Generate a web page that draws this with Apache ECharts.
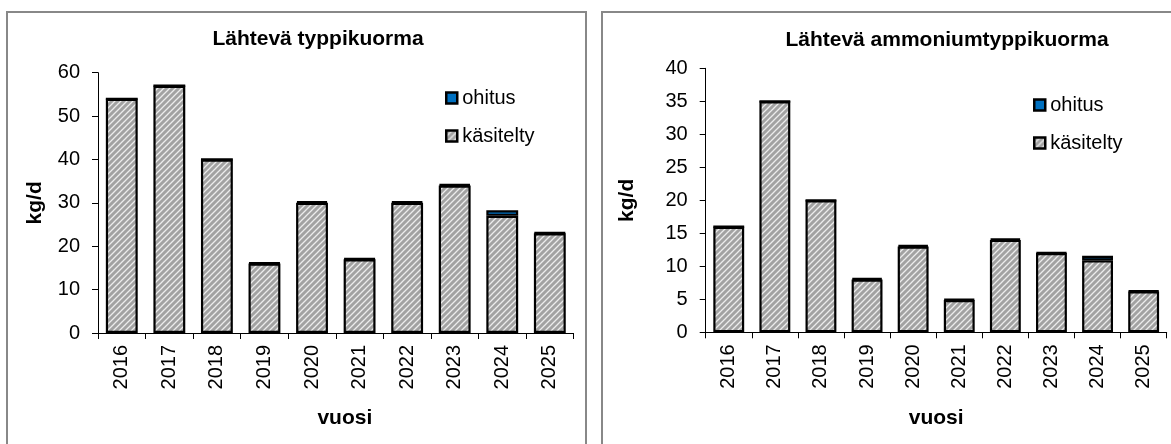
<!DOCTYPE html>
<html>
<head>
<meta charset="utf-8">
<script src="https://cdn.jsdelivr.net/npm/echarts@6/dist/echarts.min.js"></script>
<style>
  html, body { margin: 0; padding: 0; background: #fff; }
  #chart { width: 1171px; height: 444px; }
</style>
</head>
<body>
<div id="chart"></div>
<script>
  // vuodet
  var years = ['2016', '2017', '2018', '2019', '2020', '2021', '2022', '2023', '2024', '2025'];

  // Lähtevä typpikuorma, kg/d
  var typpiKasitelty = [54, 57, 40, 16, 30, 17, 30, 34, 27, 23];
  var typpiOhitus    = [0, 0, 0, 0.2, 0.4, 0.2, 0.3, 0.3, 1.3, 0.2];

  // Lähtevä ammoniumtyppikuorma, kg/d
  var ammoniumKasitelty = [16, 35, 20, 8, 13, 4.9, 14, 12, 10.9, 6.2];
  var ammoniumOhitus    = [0, 0, 0, 0.2, 0.2, 0.1, 0.2, 0.1, 0.7, 0.1];

  // y-akselin asteikot
  var typpiMax = 60, typpiStep = 10;
  var ammoniumMax = 40, ammoniumStep = 5;

  var font = 'Liberation Sans, Arial, sans-serif';

  // vinoviivakuvio (harmaa + vaaleat viivat)
  function stripes() {
    var c = document.createElement('canvas');
    c.width = 6; c.height = 6;
    var ctx = c.getContext('2d');
    ctx.fillStyle = '#a2a2a2';
    ctx.fillRect(0, 0, 6, 6);
    ctx.strokeStyle = '#ececec';
    ctx.lineWidth = 1.3;
    ctx.beginPath();
    ctx.moveTo(-1, 7); ctx.lineTo(7, -1);
    ctx.moveTo(-4, 4); ctx.lineTo(4, -4);
    ctx.moveTo(2, 10); ctx.lineTo(10, 2);
    ctx.stroke();
    return c;
  }
  var pattern = { image: stripes(), repeat: 'repeat' };
  var blue = '#0070c0';

  function xAx(gi, namePad) {
    return {
      type: 'category', gridIndex: gi, data: years,
      name: 'vuosi', nameLocation: 'middle', nameGap: 75,
      nameTextStyle: { fontFamily: font, fontSize: 21, fontWeight: 'bold', color: '#000', padding: namePad },
      axisLine: { show: true, lineStyle: { color: '#000', width: 1 } },
      axisTick: { show: true, length: 6, alignWithLabel: false, lineStyle: { color: '#000' } },
      axisLabel: { rotate: 90, interval: 0, margin: 12, fontFamily: font, fontSize: 20, color: '#000' },
      splitLine: { show: false }
    };
  }
  function yAx(gi, max, step, gap) {
    return {
      type: 'value', gridIndex: gi, min: 0, max: max, interval: step,
      name: 'kg/d', nameLocation: 'middle', nameGap: gap,
      nameTextStyle: { fontFamily: font, fontSize: 21, fontWeight: 'bold', color: '#000' },
      axisLine: { show: true, lineStyle: { color: '#000', width: 1 } },
      axisTick: { show: true, length: 6, lineStyle: { color: '#000' } },
      axisLabel: { margin: 18, fontFamily: font, fontSize: 20, color: '#000' },
      splitLine: { show: false }
    };
  }
  function bar(name, gi, data, color, stack) {
    return {
      name: name, type: 'bar', stack: stack, xAxisIndex: gi, yAxisIndex: gi,
      data: data, barCategoryGap: '33%',
      itemStyle: { color: color, borderColor: '#000', borderWidth: 2.2 },
      emphasis: { disabled: true }
    };
  }
  function legend(left, top) {
    return {
      data: ['ohitus', 'käsitelty'], orient: 'vertical', left: left, top: top,
      padding: 0, itemWidth: 11, itemHeight: 11, itemGap: 18, icon: 'rect',
      itemStyle: { borderColor: '#000', borderWidth: 2.5 },
      textStyle: { fontFamily: font, fontSize: 20, color: '#000' }
    };
  }

  var chart = echarts.init(document.getElementById('chart'));
  chart.setOption({
    animation: false,
    backgroundColor: '#fff',
    title: [
      { text: 'Lähtevä typpikuorma', left: 318, top: 29, textAlign: 'center', padding: 0,
        textStyle: { fontFamily: font, fontSize: 21, fontWeight: 'bold', color: '#000' } },
      { text: 'Lähtevä ammoniumtyppikuorma', left: 947, top: 30, textAlign: 'center', padding: 0,
        textStyle: { fontFamily: font, fontSize: 21, fontWeight: 'bold', color: '#000' } }
    ],
    legend: [legend(445, 88), legend(1033, 95)],
    grid: [
      { left: 98, top: 72.7, width: 475.6, height: 260.3, outerBoundsMode: 'none' },
      { left: 705.7, top: 68.3, width: 461, height: 264, outerBoundsMode: 'none' }
    ],
    xAxis: [xAx(0, [0, 0, 0, 18]), xAx(1, 0)],
    yAxis: [yAx(0, typpiMax, typpiStep, 52), yAx(1, ammoniumMax, ammoniumStep, 68)],
    series: [
      bar('käsitelty', 0, typpiKasitelty, pattern, 'a'),
      bar('ohitus', 0, typpiOhitus, blue, 'a'),
      bar('käsitelty', 1, ammoniumKasitelty, pattern, 'b'),
      bar('ohitus', 1, ammoniumOhitus, blue, 'b')
    ],
    graphic: [
      { type: 'rect', shape: { x: 7, y: 12, width: 579, height: 460 },
        style: { fill: 'none', stroke: '#888', lineWidth: 2 }, silent: true },
      { type: 'rect', shape: { x: 602, y: 12, width: 600, height: 460 },
        style: { fill: 'none', stroke: '#888', lineWidth: 2 }, silent: true }
    ]
  });
</script>
</body>
</html>
